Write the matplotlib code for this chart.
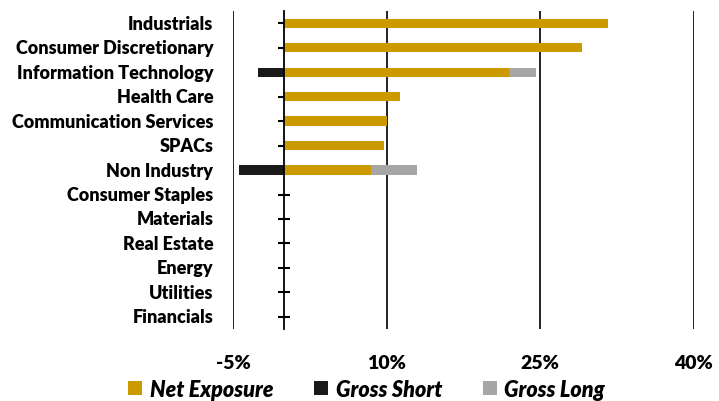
import matplotlib.pyplot as plt
import numpy as np

plt.rcParams['font.family'] = ['Lato', 'DejaVu Sans']
plt.rcParams['font.weight'] = 'bold'

sectors = ["Industrials", "Consumer Discretionary", "Information Technology",
           "Health Care", "Communication Services", "SPACs", "Non Industry",
           "Consumer Staples", "Materials", "Real Estate", "Energy",
           "Utilities", "Financials"]
net_exposure = [31.6, 29.1, 22.0, 11.3, 10.05, 9.7, 8.5, 0, 0, 0, 0, 0, 0]
gross_short = [0, 0, -2.6, 0, 0, 0, -4.4, 0, 0, 0, 0, 0, 0]
gross_long = [31.6, 29.1, 24.6, 11.3, 10.05, 9.7, 13.0, 0, 0, 0, 0, 0, 0]
xticks = [-5, 10, 25, 40]

c_net = "#CC9900"
c_short = "#1A1A1A"
c_long = "#A6A6A6"

fig = plt.figure(figsize=(7.19, 4.02), dpi=100)
ax = fig.add_axes([0.324, 0.179, 0.641, 0.791])

y = np.arange(len(sectors))
h = 0.38
# gross long behind, net exposure on top
ax.barh(y, gross_long, height=h, color=c_long, label="Gross Long", zorder=2)
ax.barh(y, gross_short, height=h, color=c_short, label="Gross Short", zorder=2)
ax.barh(y, net_exposure, height=h, color=c_net, label="Net Exposure", zorder=3)

ax.set_xlim(-5, 40)
ax.set_ylim(len(sectors) - 0.5, -0.5)

for x in xticks:
    ax.axvline(x, color="#111111", lw=1.3, zorder=1)

for s in ["top", "right", "bottom"]:
    ax.spines[s].set_visible(False)
ax.spines["left"].set_position(("data", 0))
ax.spines["left"].set_linewidth(1.3)
ax.spines["left"].set_zorder(4)
ax.set_yticks(y)
ax.set_yticklabels([])
ax.tick_params(axis="y", direction="inout", length=9, width=1.5)

# sector labels placed left of the chart area
trans = ax.get_yaxis_transform()
for yi, name in zip(y, sectors):
    ax.text(-0.043, yi, name, transform=trans, ha="right", va="center",
            fontsize=13, fontweight="heavy")

ax.set_xticks(xticks)
ax.set_xticklabels([f"{v}%" for v in xticks], fontsize=14, fontweight="heavy")
ax.tick_params(axis="x", length=0, pad=18)

handles, labels = ax.get_legend_handles_labels()
order = [2, 1, 0]
fig.legend([handles[i] for i in order], [labels[i] for i in order],
           loc="lower center", bbox_to_anchor=(0.51, -0.045), ncol=3,
           frameon=False, handlelength=0.65, handleheight=0.65,
           handletextpad=0.35, columnspacing=1.9,
           prop={"size": 15.5, "weight": "heavy", "style": "italic"})

fig.savefig("out.png", dpi=100)
